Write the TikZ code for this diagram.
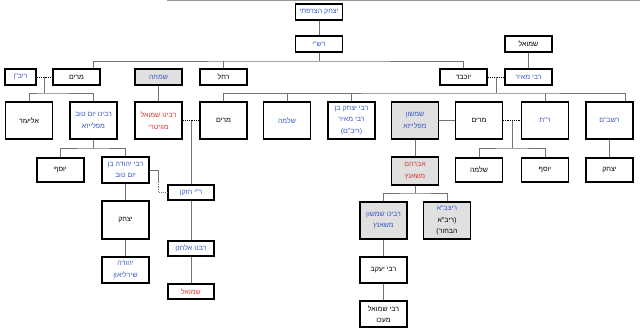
\documentclass[tikz,border=0pt]{standalone}
\usepackage{fontspec}
\newfontfamily\hebfont[Script=Hebrew]{Liberation Sans}
\TeXXeTstate=1
\newcommand{\heb}[1]{\beginR #1\endR}
\definecolor{hblue}{HTML}{3A5BC7}
\definecolor{hred}{HTML}{D93A3A}
\definecolor{hgray}{HTML}{E0E0E0}
\usetikzlibrary{shadows}

\begin{document}
\begin{tikzpicture}[x=1pt,y=-1pt]
   \tikzstyle{every node}=[font=\hebfont\fontsize{7}{11.5}\selectfont]
   \tikzstyle{fam}=[draw,line width=1.1pt,fill=white,minimum width=47pt,inner sep=1pt,align=center,
      drop shadow={shadow xshift=0.7pt,shadow yshift=-0.7pt,fill=black!40,opacity=1}]
   \tikzstyle{famg}=[fam,fill=hgray]
   \tikzstyle{kin}=[draw=black!55,line width=0.8pt]
   \tikzstyle{wed}=[draw=black,line width=0.8pt,dash pattern=on 1.2pt off 1pt]

   \useasboundingbox (0,0) rectangle (640,333) ;
   \draw [black!40,line width=1pt] (167,0.5) -- (640,0.5) ;

   % rashi and his daughters
   \node (yitzchak) [fam,minimum height=16pt,text=hblue] at (319,12) {\heb{יצחק הצרפתי}} ;
   \node (rashi) [fam,minimum height=16pt,text=hblue] at (319,44) {\heb{רש"י}} ;
   \node (shmuelT) [fam,minimum height=16pt] at (528.5,44) {\heb{שמואל}} ;

   \node (riban) [fam,minimum height=16pt,minimum width=31pt,text=hblue] at (20.5,77) {\heb{ריב"ן}} ;
   \node (miriamA) [fam,minimum height=16pt] at (76.5,77) {\heb{מרים}} ;
   \node (simcha) [famg,minimum height=16pt,text=hblue] at (158.5,77) {\heb{שמחה}} ;
   \node (rachel) [fam,minimum height=16pt] at (223.5,77) {\heb{רחל}} ;
   \node (yocheved) [fam,minimum height=16pt] at (463.5,77) {\heb{יוכבד}} ;
   \node (meir) [fam,minimum height=16pt,text=hblue] at (528.5,77) {\heb{רבי מאיר}} ;

   % grandchildren
   \node (eliezer) [fam,minimum height=37pt] at (29,120.5) {\heb{אליעזר}} ;
   \node (yomtov) [fam,minimum height=37pt,text=hblue] at (93.5,120.5) {\heb{רבינו יום טוב}\\\heb{מפלייזא}} ;
   \node (vitry) [fam,minimum height=37pt,text=hred] at (158.5,120.5) {\heb{רבינו שמואל}\\\heb{מוויטרי}} ;
   \node (miriamB) [fam,minimum height=37pt] at (223.5,120.5) {\heb{מרים}} ;
   \node (shlomoB) [fam,minimum height=37pt,text=hblue] at (287,120.5) {\heb{שלמה}} ;
   \node (rivam) [fam,minimum height=37pt,text=hblue] at (351.5,120.5) {\heb{רבי יצחק בן}\\\heb{רבי מאיר}\\\heb{(ריב"ם)}} ;
   \node (shimshon) [famg,minimum height=37pt,text=hblue] at (415,120.5) {\heb{שמשון}\\\heb{מפלייזא}} ;
   \node (miriamC) [fam,minimum height=37pt] at (479,120.5) {\heb{מרים}} ;
   \node (rt) [fam,minimum height=37pt,text=hblue] at (545,120.5) {\heb{ר"ת}} ;
   \node (rashbam) [fam,minimum height=37pt,text=hblue] at (609.5,120.5) {\heb{רשב"ם}} ;

   \node (yosefA) [fam,minimum height=24pt] at (60.5,170) {\heb{יוסף}} ;
   \node (yehuda) [fam,minimum height=26pt,text=hblue] at (125.5,170) {\heb{רבי יהודה בן}\\\heb{יום טוב}} ;
   \node (avraham) [famg,minimum height=28pt,text=hred] at (415,171) {\heb{אברהם}\\\heb{משאנץ}} ;
   \node (shlomoC) [fam,minimum height=24pt] at (479,170) {\heb{שלמה}} ;
   \node (yosefC) [fam,minimum height=24pt] at (545,170) {\heb{יוסף}} ;
   \node (yitzchakC) [fam,minimum height=24pt] at (609.5,170) {\heb{יצחק}} ;
   \node (ri) [fam,minimum height=15pt,minimum width=46pt,text=hblue] at (191,192.5) {\heb{ר"י הזקן}} ;

   \node (yitzchakB) [fam,minimum height=38pt] at (125.5,220) {\heb{יצחק}} ;
   \node (shimshonS) [famg,minimum height=37pt,text=hblue] at (383.5,220.5) {\heb{רבינו שמשון}\\\heb{משאנץ}} ;
   \node (ritzba) [famg,minimum height=37pt] at (447,220.5) {\textcolor{hblue}{\heb{ריצב"א}}\\\heb{(ריב"א}\\\heb{הבחור)}} ;
   \node (elchanan) [fam,minimum height=15pt,minimum width=46pt,text=hblue] at (191,248.5) {\heb{רבנו אלחנן}} ;
   \node (yehudaS) [fam,minimum height=26pt,text=hblue] at (125.5,270) {\heb{יהודה}\\\heb{שירליאון}} ;
   \node (yaakov) [fam,minimum height=26pt] at (383.5,270) {\heb{רבי יעקב}} ;
   \node (shmuelB) [fam,minimum height=15pt,minimum width=46pt,text=hred] at (191,291.5) {\heb{שמואל}} ;
   \node (acco) [fam,minimum height=26pt] at (383.5,314) {\heb{רבי שמואל}\\\heb{מעכו}} ;

   % lines of descent
   \coordinate (rashiJ) at (319,61) ;
   \draw [kin] (yitzchak) -- (rashi) ;
   \draw [kin] (rashi) -- (rashiJ) ;
   \draw [kin] ([xshift=16.5pt]miriamA.north) |- (rashiJ) -| (yocheved) ;
   \draw [kin] (rachel) -- (rachel |- rashiJ) ;
   \draw [kin] (shmuelT) -- (meir) ;

   \draw [wed] (riban) -- coordinate (w1) (miriamA) ;
   \coordinate (k1) at (44.5,93) ;
   \draw [kin] (w1) -- (k1) ;
   \draw [kin] (eliezer) |- (k1) -| (yomtov) ;

   \draw [wed] (yocheved) -- coordinate (w2) (meir) ;
   \coordinate (k2) at (496,93) ;
   \draw [kin] (w2) -- (k2) ;
   \draw [kin] (miriamB) |- (k2) -| ([xshift=15.5pt]rashbam.north) ;
   \draw [kin] (shlomoB) -- (shlomoB |- k2) ;
   \draw [kin] (rivam) -- (rivam |- k2) ;
   \draw [kin] (rt) -- (rt |- k2) ;

   \draw [kin] (simcha) -- (vitry) ;
   \draw [wed] (vitry) -- coordinate (w3) (miriamB) ;
   \draw [kin] (w3) -- (ri) ;

   \coordinate (k4) at (93.5,148) ;
   \draw [kin] (yomtov) -- (k4) ;
   \draw [kin] (yosefA) |- (k4) -| (yehuda) ;
   \coordinate (y1) at (158,170) ;
   \coordinate (y2) at (158,182) ;
   \draw [kin] (yehuda.east) -- (y1) -- (y2) ;
   \draw [wed,draw=black!55] (y2) |- (ri.west) ;
   \draw [kin] (yehuda) -- (yitzchakB) ;
   \draw [kin] (yitzchakB) -- (yehudaS) ;
   \draw [kin] (ri) -- (elchanan) ;
   \draw [kin] (elchanan) -- (shmuelB) ;

   \draw [kin] (shimshon) -- (miriamC) ;
   \draw [wed] (miriamC) -- coordinate (w4) (rt) ;
   \coordinate (k5) at (512,148) ;
   \draw [kin] (w4) -- (k5) ;
   \draw [kin] (shlomoC) |- (k5) -| (yosefC) ;
   \draw [kin] (rashbam) -- (yitzchakC) ;

   \draw [kin] (shimshon) -- (avraham) ;
   \coordinate (k6) at (415,193) ;
   \draw [kin] (avraham) -- (k6) ;
   \draw [kin] (shimshonS) |- (k6) -| (ritzba) ;
   \draw [kin] (shimshonS) -- (yaakov) ;
   \draw [kin] (yaakov) -- (acco) ;

\end{tikzpicture}
\end{document}
